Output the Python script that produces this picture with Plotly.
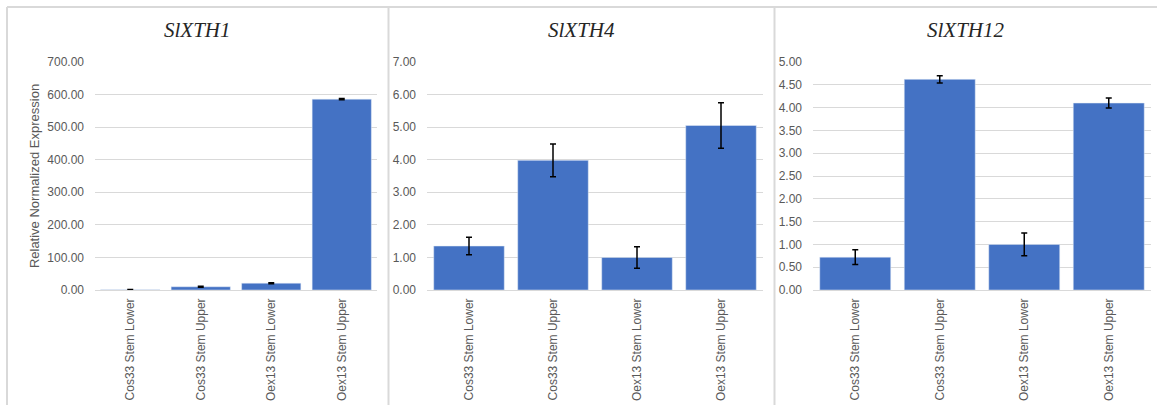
import plotly.graph_objects as go

categories = ["Cos33 Stem Lower", "Cos33 Stem Upper", "Oex13 Stem Lower", "Oex13 Stem Upper"]
titles = ["SlXTH1", "SlXTH4", "SlXTH12"]

xth1_vals = [1.0, 10.0, 21.0, 586.0]
xth1_err = [0.3, 1.2, 1.5, 2.0]
xth4_vals = [1.35, 3.98, 1.00, 5.05]
xth4_err = [0.27, 0.50, 0.33, 0.70]
xth12_vals = [0.72, 4.62, 1.00, 4.10]
xth12_err = [0.16, 0.08, 0.25, 0.11]

y_ranges = [[0, 700], [0, 7], [0, 5]]
y_dticks = [100, 1, 0.5]

series = [(xth1_vals, xth1_err), (xth4_vals, xth4_err), (xth12_vals, xth12_err)]

W, H = 1157, 405
x_doms_px = [(95, 377), (427, 763), (813, 1151)]
y_top_px, y_bot_px = 62, 290
panel_px = [(7, 388), (389, 774), (775, 1157)]

fig = go.Figure()
grey = "#595959"
tick_font = dict(family="Liberation Sans, Arial", size=12, color=grey)

for i, (vals, errs) in enumerate(series):
    xa = "x" if i == 0 else f"x{i+1}"
    ya = "y" if i == 0 else f"y{i+1}"
    fig.add_trace(go.Bar(
        x=categories, y=vals, xaxis=xa, yaxis=ya,
        marker=dict(color="#4472C4"),
        error_y=dict(type="data", array=errs, visible=True, color="black", thickness=1.5, width=3),
        showlegend=False, hoverinfo="skip",
    ))
    xkey = "xaxis" if i == 0 else f"xaxis{i+1}"
    ykey = "yaxis" if i == 0 else f"yaxis{i+1}"
    x0, x1 = x_doms_px[i]
    fig.update_layout(**{
        xkey: dict(domain=[x0 / W, x1 / W], anchor=ya, tickangle=-90, tickfont=tick_font,
                   showgrid=False, showline=False, ticks="", ticklabelstandoff=5,
                   automargin=False, fixedrange=True),
        ykey: dict(domain=[1 - y_bot_px / H, 1 - y_top_px / H], anchor=xa, range=y_ranges[i],
                   dtick=y_dticks[i], tick0=0, tickformat=".2f", tickfont=tick_font,
                   showgrid=True, gridcolor="#d9d9d9", gridwidth=1, zeroline=True,
                   zerolinecolor="#d9d9d9", zerolinewidth=1, showline=False, ticks="",
                   ticklabelstandoff=10, automargin=False, fixedrange=True),
    })
    px0, px1 = panel_px[i]
    fig.add_annotation(
        x=(px0 + px1) / 2 / W, y=1 - 30 / H, xref="paper", yref="paper",
        text=f"<i>{titles[i]}</i>", showarrow=False,
        font=dict(family="Liberation Serif, DejaVu Serif", size=21, color="#262626"),
        xanchor="center", yanchor="middle",
    )

fig.update_layout(
    yaxis_title=dict(text="Relative Normalized Expression", font=dict(family="Liberation Sans, Arial", size=13, color=grey), standoff=4),
)

# panel borders
line_style = dict(color="#d9d9d9", width=2)
fig.add_shape(type="line", xref="paper", yref="paper", x0=7 / W, x1=1, y0=1 - 7 / H, y1=1 - 7 / H, line=line_style)
for xp in [7, 388.5, 774.5]:
    fig.add_shape(type="line", xref="paper", yref="paper", x0=xp / W, x1=xp / W, y0=0, y1=1 - 7 / H, line=line_style)

fig.update_layout(
    width=W, height=H, margin=dict(l=0, r=0, t=0, b=0, autoexpand=False),
    paper_bgcolor="white", plot_bgcolor="white", bargap=0.16,
)

fig.write_html("out.html", config={"displayModeBar": False},
               post_script="document.body.style.margin='0';document.body.style.overflow='hidden';")
